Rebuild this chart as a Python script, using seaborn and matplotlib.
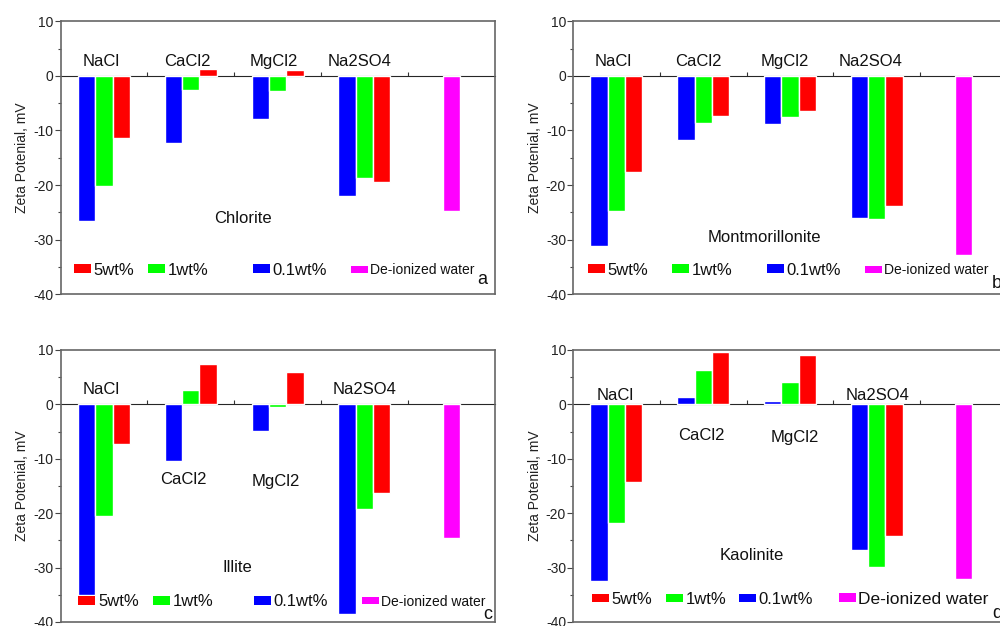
import matplotlib
matplotlib.use('Agg')
import matplotlib.pyplot as plt
from matplotlib.patches import Patch
from matplotlib.legend import Legend
import seaborn as sns
import pandas as pd

# salts on the x axis, plus the de-ionized water reference
salts = ['NaCl', 'CaCl2', 'MgCl2', 'Na2SO4']
water_label = 'De-ionized water'
concentrations = ['0.1wt%', '1wt%', '5wt%']

# zeta potential (mV), per clay mineral
chlorite_01 = [-26.5, -12.3, -7.9, -22.0]
chlorite_1 = [-20.2, -2.6, -2.7, -18.7]
chlorite_5 = [-11.4, 1.2, 1.1, -19.4]
chlorite_water = -24.7

montmorillonite_01 = [-31.1, -11.8, -8.8, -26.1]
montmorillonite_1 = [-24.8, -8.6, -7.6, -26.2]
montmorillonite_5 = [-17.7, -7.3, -6.4, -23.9]
montmorillonite_water = -32.8

illite_01 = [-35.1, -10.4, -4.8, -38.5]
illite_1 = [-20.6, 2.6, -0.4, -19.3]
illite_5 = [-7.2, 7.5, 6.0, -16.3]
illite_water = -24.5

kaolinite_01 = [-32.5, 1.3, 0.7, -26.7]
kaolinite_1 = [-21.8, 6.3, 4.1, -29.8]
kaolinite_5 = [-14.3, 9.7, 9.0, -24.2]
kaolinite_water = -32.1

colors = {'0.1wt%': '#0000ff', '1wt%': '#00ff00', '5wt%': '#ff0000'}
water_color = '#ff00ff'

plt.rcParams['axes.unicode_minus'] = False
sns.set_style('white')
plt.rcParams['font.family'] = ['Liberation Sans', 'DejaVu Sans']

fig = plt.figure(figsize=(10, 6.26), dpi=100)

panels = [
    # name, series, water, axes rect, letter, title pos, group-label (dx, y), legend x, legend y, letter pos, water fontsize
    ('Chlorite', (chlorite_01, chlorite_1, chlorite_5), chlorite_water,
     [0.0606, 0.530, 0.434, 0.436], 'a', (0.42, 0.278),
     [(-0.03, 2.7), (-0.04, 2.7), (-0.04, 2.7), (-0.06, 2.7)],
     [0.031, 0.201, 0.443, 0.669], 0.088, (0.971, 0.055), 10),
    ('Montmorillonite', (montmorillonite_01, montmorillonite_1, montmorillonite_5), montmorillonite_water,
     [0.573, 0.530, 0.434, 0.436], 'b', (0.442, 0.209),
     [(-0.04, 2.7), (-0.06, 2.7), (-0.06, 2.7), (-0.07, 2.7)],
     [0.035, 0.228, 0.447, 0.673], 0.088, (0.977, 0.04), 10),
    ('Illite', (illite_01, illite_1, illite_5), illite_water,
     [0.0606, 0.0064, 0.434, 0.4345], 'c', (0.408, 0.199),
     [(-0.03, 2.8), (-0.09, -13.8), (-0.02, -14.2), (0.0, 2.8)],
     [0.041, 0.214, 0.445, 0.694], 0.075, (0.985, 0.026), 10),
    ('Kaolinite', (kaolinite_01, kaolinite_1, kaolinite_5), kaolinite_water,
     [0.573, 0.0064, 0.434, 0.4345], 'd', (0.412, 0.243),
     [(-0.01, 1.7), (-0.02, -5.8), (0.06, -6.1), (0.01, 1.7)],
     [0.044, 0.214, 0.382, 0.612], 0.083, (0.977, 0.033), 12.5),
]

order = salts + [water_label]

for (name, series, water, rect, letter, title_pos, label_pos,
     leg_x, leg_y, letter_pos, water_fs) in panels:
    ax = fig.add_axes(rect)

    rows = []
    for conc, vals in zip(concentrations, series):
        for salt, v in zip(salts, vals):
            rows.append({'salt': salt, 'conc': conc, 'zeta': v})
    df = pd.DataFrame(rows)
    df_water = pd.DataFrame({'salt': [water_label], 'zeta': [water]})

    sns.barplot(data=df, x='salt', y='zeta', hue='conc', order=order,
                hue_order=concentrations, palette=colors, width=0.6,
                saturation=1, errorbar=None, legend=False, ax=ax)
    sns.barplot(data=df_water, x='salt', y='zeta', order=order,
                color=water_color, width=0.2, saturation=1,
                errorbar=None, ax=ax)

    ax.set_xlim(-0.5, 4.5)
    ax.set_ylim(-40, 10)
    ax.set_xlabel('')
    ax.set_xticks([])
    ax.set_yticks([10, 0, -10, -20, -30, -40])
    ax.set_yticks([5, -5, -15, -25, -35], minor=True)
    ax.tick_params(axis='y', which='major', direction='out', length=4,
                   width=0.8, color='#444444', labelsize=10, pad=1,
                   labelcolor='#222222', left=True)
    ax.tick_params(axis='y', which='minor', direction='out', length=2.5,
                   width=0.8, color='#444444', left=True)
    ax.set_ylabel('Zeta Potenial, mV', fontsize=10, color='#222222', labelpad=3)
    for sp in ax.spines.values():
        sp.set_color('#666666')
        sp.set_linewidth(1.2)

    # zero line with the group ticks
    zero_axis = ax.secondary_xaxis(0.8)
    zero_axis.set_xticks([0.5, 1.5, 2.5, 3.5])
    zero_axis.set_xticklabels([])
    zero_axis.tick_params(direction='out', length=3, width=0.8, color='#333333')
    zero_axis.spines['bottom'].set_color('#222222')
    zero_axis.spines['bottom'].set_linewidth(0.8)

    for i, (salt, (dx, y)) in enumerate(zip(salts, label_pos)):
        ax.text(i + dx, y, salt, ha='center', va='center', fontsize=12,
                color='#111111')

    ax.text(title_pos[0], title_pos[1], name, transform=ax.transAxes,
            ha='center', va='center', fontsize=12, color='#111111')
    ax.text(letter_pos[0], letter_pos[1], letter, transform=ax.transAxes,
            ha='center', va='center', fontsize=13, color='#111111')

    entries = [('5wt%', colors['5wt%'], 12), ('1wt%', colors['1wt%'], 12),
               ('0.1wt%', colors['0.1wt%'], 12), (water_label, water_color, water_fs)]
    for (lab, col, fs), lx in zip(entries, leg_x):
        leg = Legend(ax, [Patch(facecolor=col, edgecolor='none')], [lab],
                     loc='center left', bbox_to_anchor=(lx, leg_y),
                     bbox_transform=ax.transAxes, frameon=False,
                     fontsize=fs, handlelength=17 / fs * 72 / 100,
                     handleheight=0.45, handletextpad=0.15,
                     borderpad=0, borderaxespad=0)
        for t in leg.get_texts():
            t.set_color('#111111')
        ax.add_artist(leg)

fig.savefig('out.png', dpi=100)
